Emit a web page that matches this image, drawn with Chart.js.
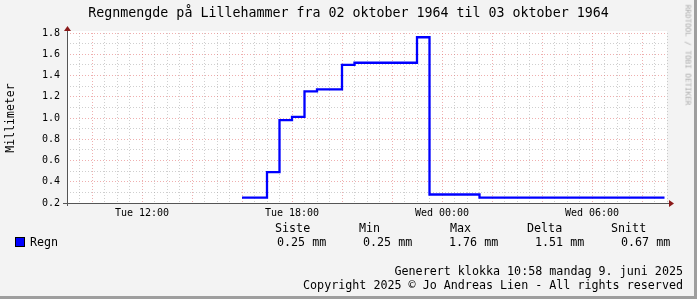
<!DOCTYPE html>
<html>
<head>
<meta charset="utf-8">
<script src="https://cdn.jsdelivr.net/npm/chart.js@4"></script>
<style>
  html, body { margin: 0; padding: 0; background: #f3f3f3; }
  #wrap { position: relative; width: 697px; height: 299px; background: #f3f3f3; overflow: hidden;
          font-family: "DejaVu Sans Mono", monospace; color: #000; }
  #frame { position: absolute; left: 0; top: 0; width: 694px; height: 296px;
           border-right: 3px solid #9e9e9e; border-bottom: 3px solid #9e9e9e; pointer-events: none; }
  canvas { position: absolute; left: 0; top: 0; }
  .t { position: absolute; white-space: pre; }
  #title { left: 0; width: 697px; top: 5px; text-align: center; font-size: 13.3px; }
  #ylab { left: 10px; top: 118px; font-size: 11.5px; transform: translate(-50%, -50%) rotate(-90deg); }
  #wm { left: 688px; top: 55px; font-size: 7.6px; color: #aaaaaa; transform: translate(-50%, -50%) rotate(90deg); }
  .leg { font-size: 11.7px; }
  #swatch { position: absolute; left: 15px; top: 237px; width: 8px; height: 8px; background: #0000ff; border: 1px solid #000; }
</style>
</head>
<body>
<div id="wrap">
  <canvas id="c" width="697" height="299"></canvas>
  <div class="t" id="title">Regnmengde på Lillehammer fra 02 oktober 1964 til 03 oktober 1964</div>
  <div class="t" id="ylab">Millimeter</div>
  <div class="t" id="wm">RRDTOOL / TOBI OETIKER</div>
  <div id="swatch"></div>
  <div class="t leg" style="left:30px; top:235px;">Regn</div>
  <div id="stats"></div>
  <div class="t leg" style="right:14px; top:264px; text-align:right;">Generert klokka 10:58 mandag 9. juni 2025</div>
  <div class="t leg" style="right:14px; top:278px; text-align:right;">Copyright 2025 © Jo Andreas Lien - All rights reserved</div>
  <div id="frame"></div>
</div>
<script>
// timer regnet fra tirsdag 00:00
const hours = [16, 17, 17.5, 18, 18.5, 19, 20, 20.5, 23, 23.5, 25.5, 32.9];
const rain  = [0.25, 0.49, 0.98, 1.01, 1.25, 1.27, 1.50, 1.52, 1.76, 0.28, 0.25, 0.25];

const tickHours = [12, 18, 24, 30];
const tickText  = ['Tue 12:00', 'Tue 18:00', 'Wed 00:00', 'Wed 06:00'];

const statNames  = ['Siste', 'Min', 'Max', 'Delta', 'Snitt'];
const statValues = [0.25, 0.25, 1.76, 1.51, 0.67];

// statistikk-kolonner
const statsBox = document.getElementById('stats');
const colLeft = [277, 363, 449, 535, 621];
const headLeft = [275, 359, 450, 527, 611];
statNames.forEach((n, i) => {
  const h = document.createElement('div');
  h.className = 't leg';
  h.style.left = headLeft[i] + 'px';
  h.style.top = '221px';
  h.textContent = n;
  statsBox.appendChild(h);
  const v = document.createElement('div');
  v.className = 't leg';
  v.style.left = colLeft[i] + 'px';
  v.style.top = '235px';
  v.textContent = statValues[i].toFixed(2) + ' mm';
  statsBox.appendChild(v);
});

const fontMono = '"DejaVu Sans Mono", monospace';
const majorCol = 'rgba(225, 110, 110, 0.55)';
const minorCol = 'rgba(160, 160, 160, 0.5)';
const arrowCol = '#8b1a1a';

function isMajorX(v) { return Math.abs(v / 2 - Math.round(v / 2)) < 1e-6; }
function isMajorY(v) { return Math.round(v * 10) % 2 === 0; }

// hvit bakgrunn i plottet, akser og piler
const rrdPlugin = {
  id: 'rrd',
  beforeDraw(chart) {
    const a = chart.chartArea, ctx = chart.ctx;
    ctx.save();
    ctx.fillStyle = '#ffffff';
    ctx.fillRect(a.left, a.top - 2, a.right - a.left, a.bottom - a.top + 2);
    ctx.restore();
  },
  afterDatasetsDraw(chart) {
    const a = chart.chartArea, ctx = chart.ctx;
    ctx.save();
    ctx.strokeStyle = '#555';
    ctx.lineWidth = 1;
    ctx.beginPath();
    ctx.moveTo(a.left - 4, a.bottom + 0.5);
    ctx.lineTo(a.right + 4, a.bottom + 0.5);
    ctx.moveTo(a.left + 0.5, a.bottom + 3);
    ctx.lineTo(a.left + 0.5, a.top - 4);
    ctx.stroke();
    ctx.fillStyle = arrowCol;
    ctx.beginPath();
    ctx.moveTo(a.right + 7, a.bottom + 0.5);
    ctx.lineTo(a.right + 2, a.bottom - 3);
    ctx.lineTo(a.right + 2, a.bottom + 4);
    ctx.fill();
    ctx.beginPath();
    ctx.moveTo(a.left + 0.5, a.top - 7);
    ctx.lineTo(a.left - 3, a.top - 2);
    ctx.lineTo(a.left + 4, a.top - 2);
    ctx.fill();
    ctx.restore();
  }
};

chart = new Chart(document.getElementById('c').getContext('2d'), {
  type: 'line',
  data: {
    datasets: [{
      label: 'Regn',
      data: hours.map((h, i) => ({ x: h, y: rain[i] })),
      borderColor: '#0000ff',
      borderWidth: 2.3,
      stepped: true,
      pointRadius: 0,
      fill: false
    }]
  },
  options: {
    responsive: false,
    animation: false,
    layout: { padding: { left: 0, top: 33, right: 30, bottom: 76 } },
    plugins: { legend: { display: false }, tooltip: { enabled: false } },
    scales: {
      x: {
        type: 'linear',
        min: 9,
        max: 33,
        afterFit: s => { s.height = 20; },
        border: { display: false, dash: [1, 2] },
        grid: {
          drawTicks: false,
          color: c => isMajorX(c.tick.value) ? majorCol : minorCol
        },
        ticks: {
          stepSize: 0.5,
          autoSkip: false,
          maxRotation: 0,
          padding: 4,
          color: '#000',
          font: { family: fontMono, size: 10 },
          callback: v => {
            const i = tickHours.indexOf(v);
            return i >= 0 ? tickText[i] : '';
          }
        }
      },
      y: {
        min: 0.2,
        max: 1.8,
        afterFit: s => { s.width = 67; },
        border: { display: false, dash: [1, 2] },
        grid: {
          drawTicks: false,
          color: c => isMajorY(c.tick.value) ? majorCol : minorCol
        },
        ticks: {
          stepSize: 0.1,
          autoSkip: false,
          padding: 7,
          color: '#000',
          font: { family: fontMono, size: 10 },
          callback: v => isMajorY(v) ? v.toFixed(1) : ''
        }
      }
    }
  },
  plugins: [rrdPlugin]
});
</script>
</body>
</html>
